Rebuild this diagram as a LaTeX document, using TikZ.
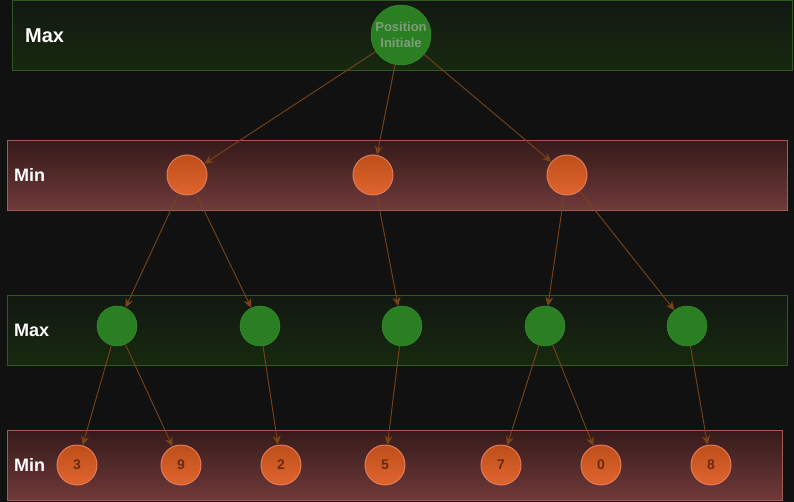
\documentclass[tikz,border=0pt]{standalone}
\usepackage{fontspec}
\setmainfont{Liberation Sans}
\usetikzlibrary{positioning,arrows.meta}
\definecolor{bgdark}{HTML}{111111}
\definecolor{maxtop}{HTML}{121812}
\definecolor{maxbot}{HTML}{17290F}
\definecolor{maxbord}{HTML}{2E5A22}
\definecolor{mintop}{HTML}{361A1A}
\definecolor{minbot}{HTML}{703A3A}
\definecolor{minbord}{HTML}{A45A55}
\definecolor{maxfill}{HTML}{2A7F22}
\definecolor{maxring}{HTML}{3A9432}
\definecolor{mintopc}{HTML}{BE4F1A}
\definecolor{minbotc}{HTML}{E0652F}
\definecolor{minring}{HTML}{E57A5A}
\definecolor{leaftext}{HTML}{6A2A12}
\definecolor{roottext}{HTML}{7E9E7A}
\definecolor{edgecol}{HTML}{7A4418}

\begin{document}
\begin{tikzpicture}[x=1pt,y=-1pt,on grid]
      \tikzset{maxband/.style={draw=maxbord,top color=maxtop,bottom color=maxbot}}
      \tikzset{minband/.style={draw=minbord,top color=mintop,bottom color=minbot}}
      \tikzset{bandlabel/.style={text=white,font=\bfseries\fontsize{18}{20}\selectfont,anchor=west,inner sep=0pt}}
      \tikzset{maxnode/.style={circle,draw=maxring,fill=maxfill,minimum size=40pt,inner sep=0pt}}
      \tikzset{minnode/.style={circle,draw=minring,line width=1pt,top color=mintopc,bottom color=minbotc,minimum size=40pt,inner sep=0pt,text=leaftext,font=\bfseries\fontsize{14}{16}\selectfont}}
      \tikzset{move/.style={draw=edgecol,line width=0.9pt,-{Stealth[length=9pt,width=8pt,fill=edgecol]}}}

      \fill[bgdark] (0,0) rectangle (794,502);
      \useasboundingbox (0,0) rectangle (794,502);

      % bands
      \path[maxband] (12.5,0.5) rectangle (792.5,70.5);
      \path[minband] (7.5,140.5) rectangle (787.5,210.5);
      \path[maxband] (7.5,295.5) rectangle (787.5,365.5);
      \path[minband] (7.5,430.5) rectangle (782.5,500.5);

      \node[bandlabel,font=\bfseries\fontsize{20}{22}\selectfont] (lmax0) at (25,36) {Max};
      \node[bandlabel] (lmin1) at (14,175) {Min};
      \node[bandlabel] (lmax2) at (14,330) {Max};
      \node[bandlabel] (lmin3) at (14,465) {Min};

      % tree
      \node[maxnode,minimum size=60pt,align=center,text=roottext,font=\bfseries\fontsize{13}{16}\selectfont] (root) at (401,35) {Position\\Initiale};

      \node[minnode] (m1) [below left = 140pt and 214pt of root] {};
      \node[minnode] (m2) [right = 186pt of m1] {};
      \node[minnode] (m3) [right = 194pt of m2] {};

      \node[maxnode] (x1) [below left = 151pt and 70pt of m1] {};
      \node[maxnode] (x2) [right = 143pt of x1] {};
      \node[maxnode] (x3) [right = 142pt of x2] {};
      \node[maxnode] (x4) [right = 143pt of x3] {};
      \node[maxnode] (x5) [right = 142pt of x4] {};

      \node[minnode] (l3) [below left = 139pt and 40pt of x1] {3};
      \node[minnode] (l9) [right = 104pt of l3] {9};
      \node[minnode] (l2) [right = 100pt of l9] {2};
      \node[minnode] (l5) [right = 104pt of l2] {5};
      \node[minnode] (l7) [right = 116pt of l5] {7};
      \node[minnode] (l0) [right = 100pt of l7] {0};
      \node[minnode] (l8) [right = 110pt of l0] {8};

      \draw[move] (root) -- (m1);
      \draw[move] (root) -- (m2);
      \draw[move] (root) -- (m3);
      \draw[move] (m1) -- (x1);
      \draw[move] (m1) -- (x2);
      \draw[move] (m2) -- (x3);
      \draw[move] (m3) -- (x4);
      \draw[move] (m3) -- (x5);
      \draw[move] (x1) -- (l3);
      \draw[move] (x1) -- (l9);
      \draw[move] (x2) -- (l2);
      \draw[move] (x3) -- (l5);
      \draw[move] (x4) -- (l7);
      \draw[move] (x4) -- (l0);
      \draw[move] (x5) -- (l8);
    \end{tikzpicture}
\end{document}
